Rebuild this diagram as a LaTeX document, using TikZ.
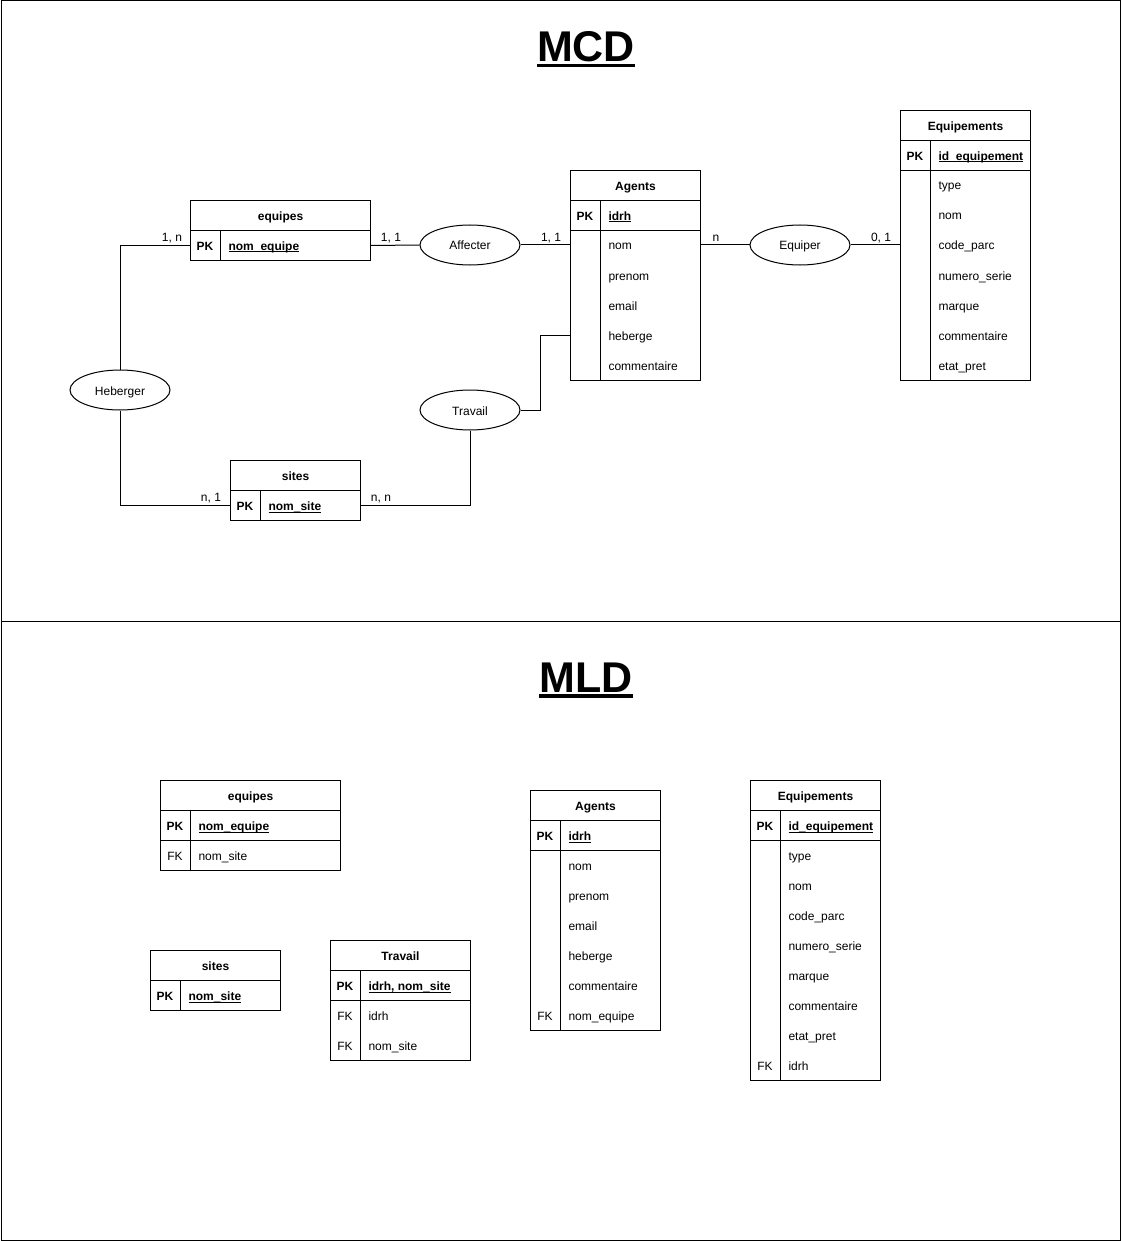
\documentclass[tikz,border=0pt]{standalone}
\usepackage{fontspec}
\setmainfont{Liberation Sans}
\usetikzlibrary{shapes.geometric}
\newsavebox\ulbox
\newcommand\ulx[1]{\sbox\ulbox{#1}\rlap{\rule[-1.8pt]{\wd\ulbox}{0.8pt}}\usebox\ulbox}
\newcommand\ult[1]{\sbox\ulbox{#1}\rlap{\rule[-5.5pt]{\wd\ulbox}{3.2pt}}\usebox\ulbox}
\newcommand\enthead[5]{\node[hdrbox,minimum width=#4] (#1-h) at (#2,#3) {#5};}
\newcommand\entpk[5]{%
  \node[rowbox,minimum width=#4] (#1-pk) at (#2,#3) {};
  \draw ([xshift=30pt]#1-pk.north west) -- ([xshift=30pt]#1-pk.south west);
  \node[keytxt] (#1-pkl) at ([xshift=15pt]#1-pk.west) {\bfseries PK};
  \node[fld] (#1-pkf) at ([xshift=38pt]#1-pk.west) {\ulx{\bfseries #5}};}
\newcommand\entbody[5]{%
  \node[rowbox,minimum width=#4,minimum height=#5] (#1-b) at (#2,#3) {};
  \draw ([xshift=30pt]#1-b.north west) -- ([xshift=30pt]#1-b.south west);}
\begin{document}
\begin{tikzpicture}[x=1pt,y=-1pt,line width=1pt,
  every node/.style={font=\fontsize{12}{14}\selectfont},
  hdrbox/.style={draw,rectangle,anchor=north west,minimum height=30,inner sep=0,
    text height=10pt,text depth=0pt,font=\fontsize{12}{14}\selectfont\bfseries},
  rowbox/.style={draw,rectangle,anchor=north west,minimum height=30,inner sep=0},
  keytxt/.style={inner sep=0,text height=10pt,text depth=0pt},
  fld/.style={inner sep=0,anchor=west,text height=10pt,text depth=0pt},
  rel/.style={draw,ellipse,minimum width=100,minimum height=40,inner sep=0,
    text height=10pt,text depth=0pt},
  card/.style={inner sep=0,text height=10pt,text depth=0pt},
  title/.style={inner sep=0,anchor=base,font=\fontsize{43}{50}\selectfont\bfseries}]
\useasboundingbox (0,0) rectangle (1121,1241);
\node[draw,rectangle,anchor=north west,minimum width=1119.5,minimum height=620,inner sep=0] (topframe) at (0.5,0.5) {};
\node[draw,rectangle,anchor=north west,minimum width=1119.5,minimum height=619.5,inner sep=0] (botframe) at (0.5,620.5) {};
\node[title] (mcd) at (586,62) {\ult{MCD}};
\node[title] (mld) at (586,692) {\ult{MLD}};

% ===== MCD =====
\enthead{eqA}{190}{200}{180}{equipes}
\entpk{eqA}{190}{230}{180}{nom\_equipe}

\enthead{agA}{570}{170}{130}{Agents}
\entpk{agA}{570}{200}{130}{idrh}
\entbody{agA}{570}{230}{130}{150}
\foreach \t [count=\i] in {nom,prenom,email,heberge,commentaire}
  \node[fld] (agA-f\i) at (608,{215+30*\i}) {\t};

\enthead{epA}{900}{110}{130}{Equipements}
\entpk{epA}{900}{140}{130}{id\_equipement}
\entbody{epA}{900}{170}{130}{210}
\foreach \t [count=\i] in {type,nom,code\_parc,numero\_serie,marque,commentaire,etat\_pret}
  \node[fld] (epA-f\i) at (938,{155+30*\i}) {\t};

\enthead{siA}{230}{460}{130}{sites}
\entpk{siA}{230}{490}{130}{nom\_site}

\node[rel] (aff) at (470,245) {Affecter};
\node[rel] (equ) at (800,245) {Equiper};
\node[rel] (heb) at (120,390) {Heberger};
\node[rel] (trav) at (470,410) {Travail};

\draw (heb.north) |- (eqA-pk.west);
\draw (heb.south) |- (siA-pk.west);
\draw (eqA-pk.east) -- (aff.west);
\draw (aff.east) -- (aff.east -| agA-b.west);
\draw (equ.west -| agA-b.east) -- (equ.west);
\draw (equ.east) -- (equ.east -| epA-b.west);
\coordinate (trbend) at (540,410);
\draw (trav.east) -- (trbend) |- (agA-b.west |- agA-f4);
\draw (trav.south) |- (siA-pk.east);

\node[card] (c1) at (172,236) {1, n};
\node[card] (c2) at (211,496) {n, 1};
\node[card] (c3) at (391,236) {1, 1};
\node[card] (c4) at (551,236) {1, 1};
\node[card] (c5) at (716,236) {n};
\node[card] (c6) at (881,236) {0, 1};
\node[card] (c7) at (381,496) {n, n};

% ===== MLD =====
\enthead{eqB}{160}{780}{180}{equipes}
\entpk{eqB}{160}{810}{180}{nom\_equipe}
\entbody{eqB}{160}{840}{180}{30}
\node[keytxt] (eqB-fkl) at (175,855) {FK};
\node[fld] (eqB-f1) at (198,855) {nom\_site};

\enthead{siB}{150}{950}{130}{sites}
\entpk{siB}{150}{980}{130}{nom\_site}

\enthead{trB}{330}{940}{140}{Travail}
\entpk{trB}{330}{970}{140}{idrh, nom\_site}
\entbody{trB}{330}{1000}{140}{60}
\node[keytxt] (trB-fk1) at (345,1015) {FK};
\node[fld] (trB-f1) at (368,1015) {idrh};
\node[keytxt] (trB-fk2) at (345,1045) {FK};
\node[fld] (trB-f2) at (368,1045) {nom\_site};

\enthead{agB}{530}{790}{130}{Agents}
\entpk{agB}{530}{820}{130}{idrh}
\entbody{agB}{530}{850}{130}{180}
\foreach \t [count=\i] in {nom,prenom,email,heberge,commentaire,nom\_equipe}
  \node[fld] (agB-f\i) at (568,{835+30*\i}) {\t};
\node[keytxt] (agB-fk) at (545,1015) {FK};

\enthead{epB}{750}{780}{130}{Equipements}
\entpk{epB}{750}{810}{130}{id\_equipement}
\entbody{epB}{750}{840}{130}{240}
\foreach \t [count=\i] in {type,nom,code\_parc,numero\_serie,marque,commentaire,etat\_pret,idrh}
  \node[fld] (epB-f\i) at (788,{825+30*\i}) {\t};
\node[keytxt] (epB-fk) at (765,1065) {FK};
\end{tikzpicture}
\end{document}
